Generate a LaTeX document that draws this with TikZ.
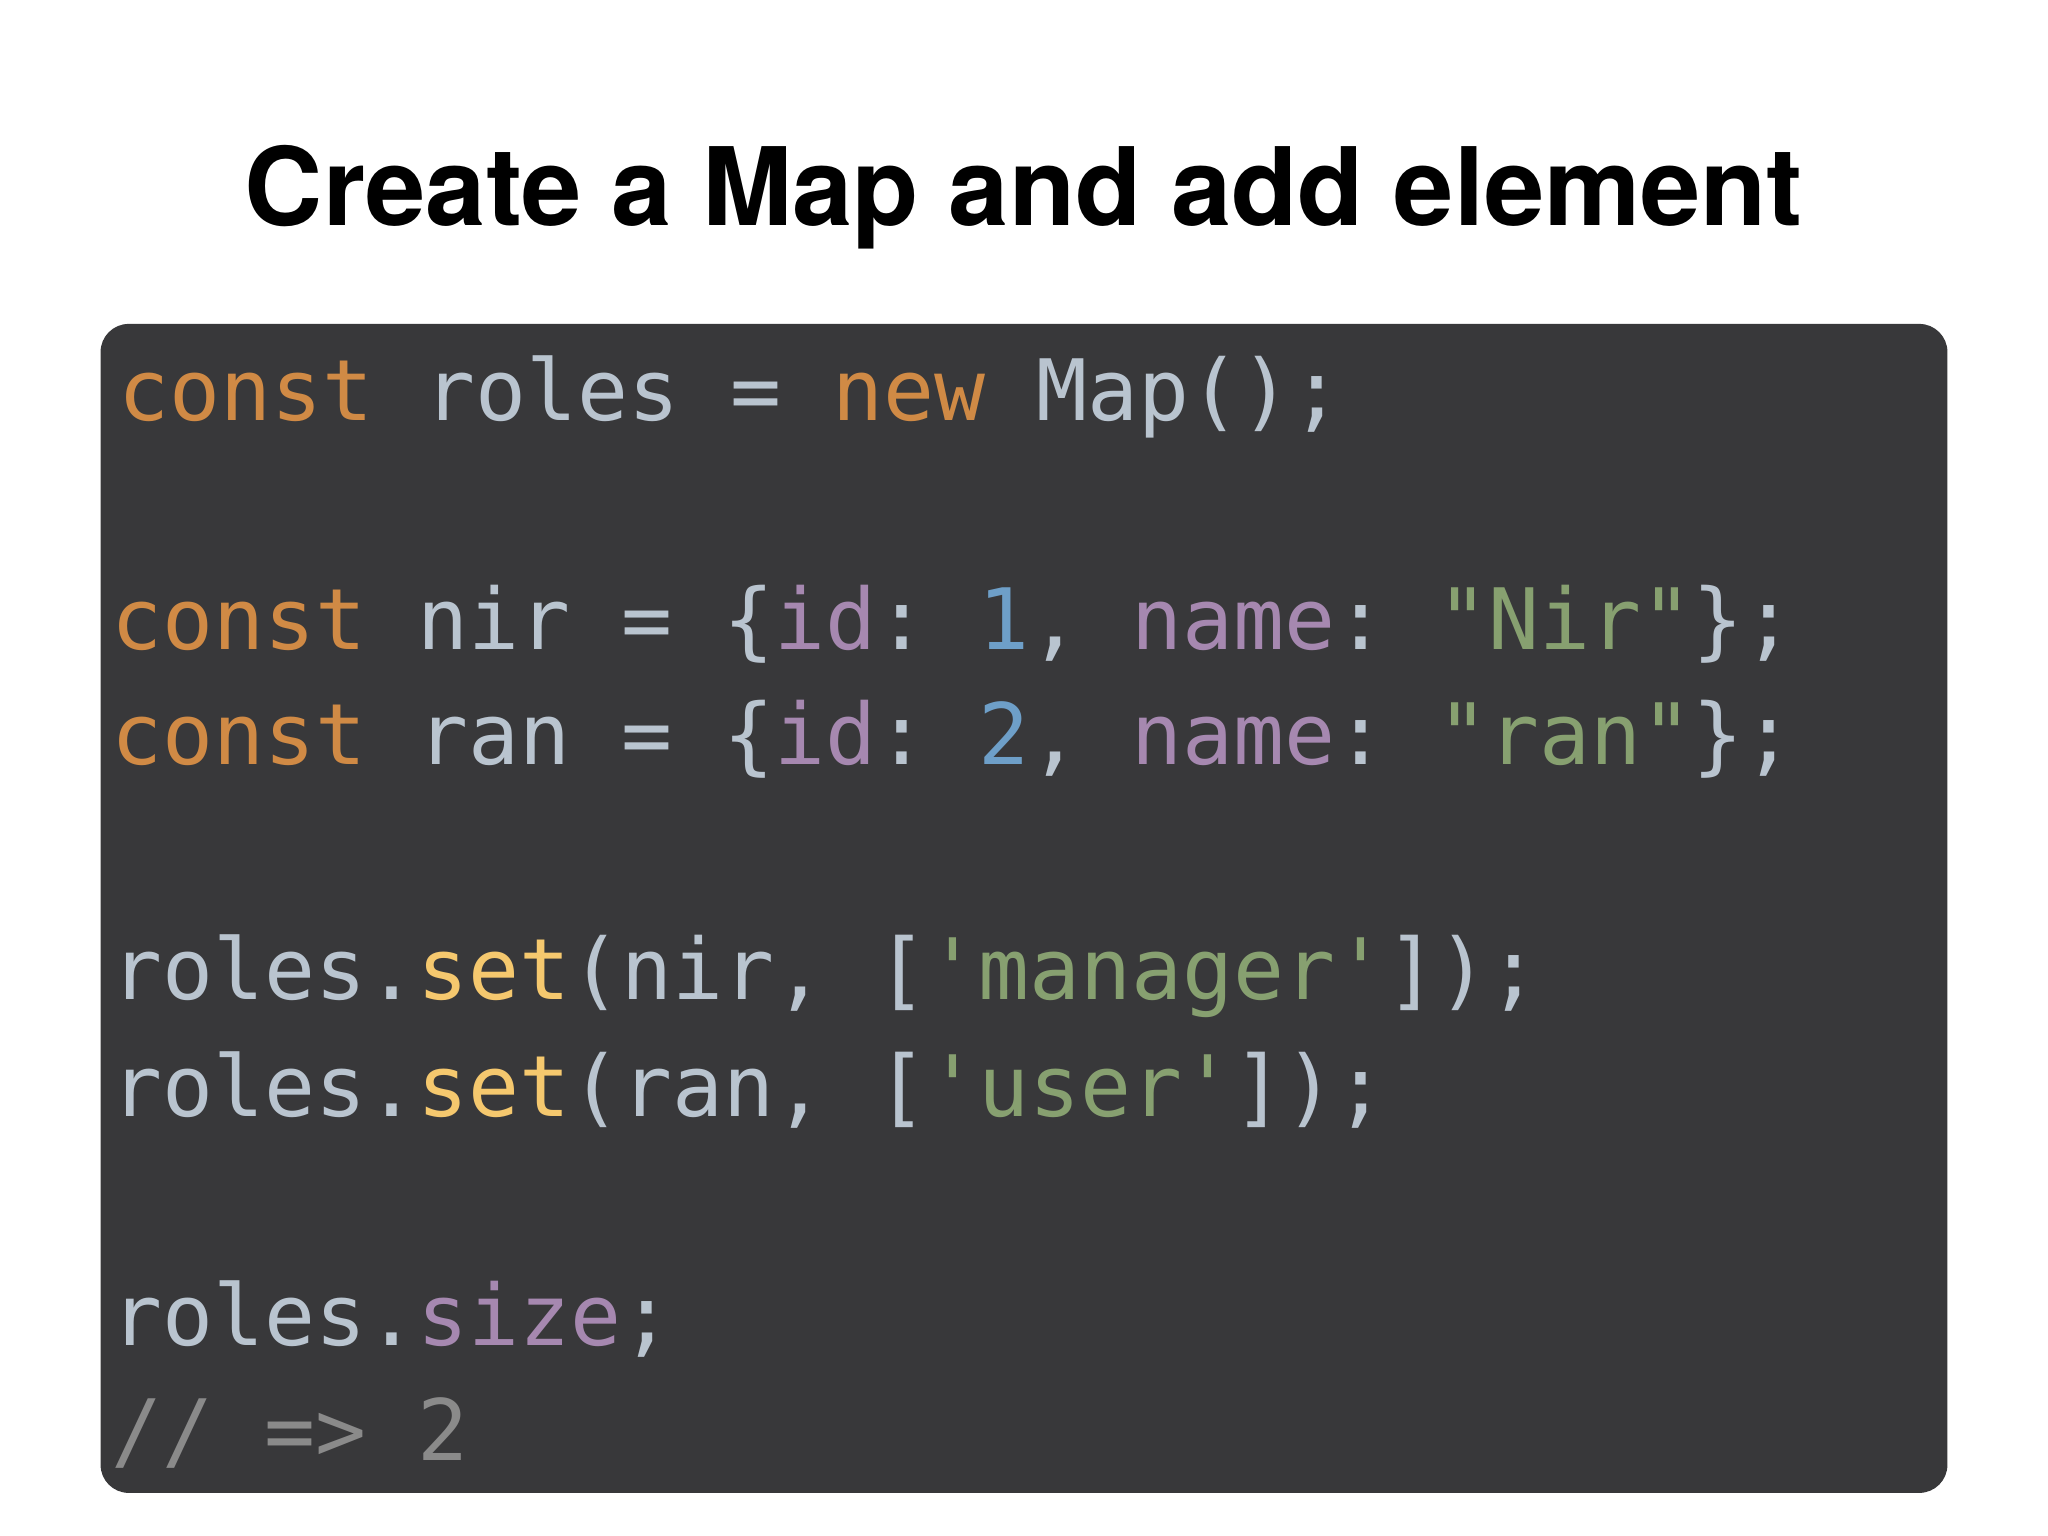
\documentclass[tikz,border=0pt]{standalone}
\usepackage{fontspec}
\setmainfont{TeX Gyre Heros}
\setmonofont{DejaVu Sans Mono}
\definecolor{codebg}{HTML}{38383A}
\definecolor{kw}{HTML}{D08A45}
\definecolor{plain}{HTML}{B9C4CF}
\definecolor{prop}{HTML}{A688B0}
\definecolor{num}{HTML}{6E9FC8}
\definecolor{str}{HTML}{87A070}
\definecolor{fn}{HTML}{F5C86E}
\definecolor{cmt}{HTML}{8A8A8A}
\newcommand{\kw}[1]{\textcolor{kw}{#1}}
\newcommand{\pr}[1]{\textcolor{prop}{#1}}
\newcommand{\nm}[1]{\textcolor{num}{#1}}
\newcommand{\st}[1]{\textcolor{str}{#1}}
\newcommand{\fn}[1]{\textcolor{fn}{#1}}
\begin{document}
\begin{tikzpicture}[x=0.013061cm, y=-0.013061cm,
    codeline/.style={anchor=base west, inner sep=0pt, text=plain,
      font=\ttfamily\fontsize{24.1pt}{28pt}\selectfont},
  ]
  \useasboundingbox (0,0) rectangle (1568,1176);
  \node[font=\bfseries\fontsize{30.8pt}{36pt}\selectfont, anchor=base] (title) at (784,173) {Create a Map and add element};
  \fill[codebg, rounded corners=8pt] (77,248) rectangle (1491,1143);
  \node[codeline] (l1) at (90,322) {\kw{const} roles = \kw{new} Map();};
  \node[codeline] (l3) at (85,497) {\kw{const} nir = \{\pr{id}: \nm{1}, \pr{name}: \st{"Nir"}\};};
  \node[codeline] (l4) at (85,585) {\kw{const} ran = \{\pr{id}: \nm{2}, \pr{name}: \st{"ran"}\};};
  \node[codeline] (l6) at (85,765) {roles.\fn{set}(nir, [\st{'manager'}]);};
  \node[codeline] (l7) at (85,855) {roles.\fn{set}(ran, [\st{'user'}]);};
  \node[codeline] (l9) at (85,1030) {roles.\pr{size};};
  \node[codeline, text=cmt] (l10) at (85,1118) {// => 2};
\end{tikzpicture}
\end{document}
